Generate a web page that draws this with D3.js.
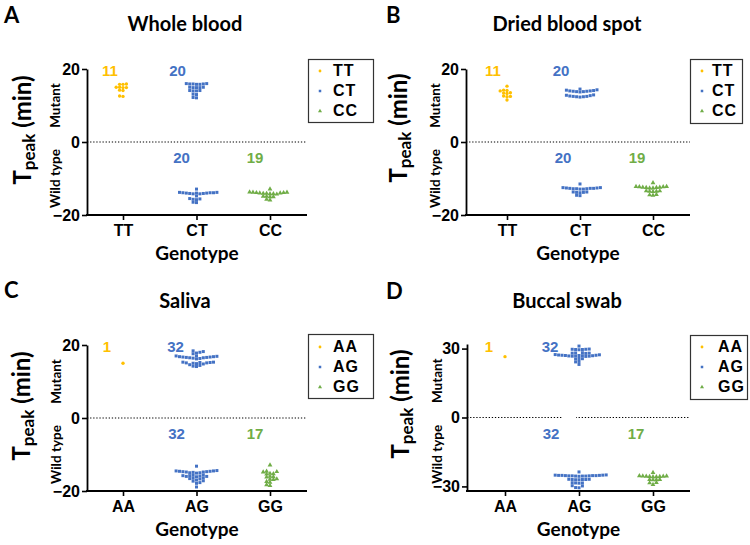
<!DOCTYPE html>
<html><head><meta charset="utf-8">
<script src="https://cdn.jsdelivr.net/npm/d3@7"></script>
<style>body{margin:0;background:#fff}svg{display:block}</style>
</head><body>
<svg id="c" width="750" height="545"></svg>
<script>
// ---------- data ----------
const genotypesAB = ["TT", "CT", "CC"];
const genotypesCD = ["AA", "AG", "GG"];
const yTicksBlood = [-20, 0, 20];
const yTicksBuccal = [-30, 0, 30];

// A: Whole blood
const wbTT_mut = [12.5, 12.6, 14.1, 14.2, 14.9, 14.9, 15.0, 15.0, 15.8, 15.8, 15.9];
const wbCT_mut = [12.1, 12.2, 13.0, 13.1, 14.0, 14.0, 14.1, 14.1, 14.9, 14.9, 14.9, 15.0, 15.0, 15.8, 15.8, 15.9, 15.9, 15.9, 16.0, 16.0];
const wbCT_wt = [-12.9, -13.8, -13.8, -13.9, -13.9, -13.9, -14.0, -14.0, -14.0, -14.1, -14.1, -14.2, -14.2, -14.8, -15.5, -15.6, -15.7, -15.8, -16.5, -16.6];
const wbCC_wt = [-12.9, -13.7, -13.8, -13.8, -13.9, -13.9, -14.0, -14.0, -14.1, -14.1, -14.2, -14.2, -14.3, -14.9, -14.9, -15.0, -15.0, -15.7, -15.9];
// B: Dried blood spot
const dbsTT_mut = [11.5, 12.4, 12.5, 12.6, 13.3, 13.4, 13.5, 14.0, 14.1, 14.2, 15.3];
const dbsCT_mut = [12.3, 12.4, 12.4, 12.5, 12.5, 12.6, 12.7, 12.8, 12.9, 13.7, 13.8, 13.8, 13.9, 13.9, 14.0, 14.0, 14.1, 14.2, 14.3, 14.5];
const dbsCT_wt = [-11.5, -12.5, -12.5, -12.6, -12.6, -12.7, -12.7, -12.7, -12.8, -12.8, -12.8, -12.9, -12.9, -13.7, -13.7, -13.8, -13.8, -13.9, -14.6, -14.7];
const dbsCC_wt = [-11.2, -12.2, -12.2, -12.3, -12.3, -12.4, -12.4, -12.5, -12.5, -12.6, -12.6, -13.4, -13.4, -13.5, -13.5, -13.6, -14.4, -14.5, -14.6];
// C: Saliva
const salAA_mut = [15.0];
const salAG_mut = [14.1, 14.2, 14.4, 14.6, 14.8, 14.9, 15.0, 15.1, 15.1, 15.2, 15.2, 15.3, 15.3, 16.2, 16.3, 16.4, 16.5, 16.5, 16.6, 16.6, 16.7, 16.7, 16.8, 16.8, 16.9, 17.0, 17.0, 17.6, 17.8, 18.0, 18.2, 18.4];
const salAG_wt = [-13.2, -14.4, -14.5, -14.5, -14.6, -14.6, -14.7, -14.7, -14.8, -14.8, -14.9, -15.0, -15.0, -15.1, -15.6, -15.7, -15.8, -15.8, -15.9, -16.0, -16.0, -16.1, -16.4, -16.5, -16.6, -16.7, -17.0, -17.2, -17.3, -17.7, -17.9, -18.9];
const salGG_wt = [-12.9, -14.6, -14.7, -14.8, -15.2, -15.3, -15.4, -16.0, -16.1, -16.2, -16.7, -16.8, -16.9, -17.4, -17.6, -18.3, -18.5];
// D: Buccal swab
const bucAA_mut = [26.5];
const bucAG_mut = [23.1, 24.2, 24.4, 25.5, 25.6, 25.7, 26.6, 26.7, 26.7, 26.8, 26.8, 26.9, 26.9, 27.0, 27.0, 27.1, 27.1, 27.2, 27.3, 27.4, 27.9, 28.0, 28.0, 28.1, 28.2, 29.5, 29.6, 29.6, 29.7, 29.7, 29.8, 31.1];
const bucAG_wt = [-23.7, -25.0, -25.1, -25.1, -25.2, -25.2, -25.2, -25.3, -25.3, -25.3, -25.4, -25.4, -25.4, -25.5, -25.5, -25.5, -25.6, -26.9, -26.9, -27.0, -27.0, -27.0, -27.1, -27.1, -28.4, -28.5, -28.5, -28.6, -29.7, -29.8, -30.5, -30.6];
const bucGG_wt = [-24.0, -25.4, -25.5, -25.5, -25.6, -25.6, -25.7, -25.7, -25.8, -25.8, -27.0, -27.0, -27.1, -27.1, -28.4, -28.5, -29.2];

// ---------- styles ----------
const colors = ["#FFC000", "#4472C4", "#70AD47"];
const shapes = [d3.symbolCircle, d3.symbolSquare, d3.symbolTriangle];
const shapeSizes = [9, 9, 10];
const HUM = "Lato, 'Open Sans', sans-serif";
const ARI = "'Liberation Sans', Arial, sans-serif";

const panels = [
  { letter: "A", title: "Whole blood", cats: genotypesAB, ticks: yTicksBlood, domain: [-20, 20],
    axisX: 87, axisEnd: 307, catRange: [123, 270], yRange: [215, 69],
    letterPos: [4, 23], titlePos: [185, 31], yLab: [31, 130], mutX: 60,
    legend: { x: 308, y: 59, w: 65, h: 63, mx: 320, tx: 333, top: 76 },
    series: [
      { gi: 0, type: "mut", values: wbTT_mut, dx: -13 },
      { gi: 1, type: "mut", values: wbCT_mut, dx: -19 },
      { gi: 1, type: "wt", values: wbCT_wt, dx: -15 },
      { gi: 2, type: "wt", values: wbCC_wt, dx: -15 } ] },
  { letter: "B", title: "Dried blood spot", cats: genotypesAB, ticks: yTicksBlood, domain: [-20, 20],
    axisX: 466, axisEnd: 690, catRange: [507, 653], yRange: [215, 69],
    letterPos: [386, 23], titlePos: [567, 31], yLab: [407, 128], mutX: 440,
    legend: { x: 690, y: 59, w: 52, h: 64, mx: 702, tx: 712, top: 76 },
    series: [
      { gi: 0, type: "mut", values: dbsTT_mut, dx: -14 },
      { gi: 1, type: "mut", values: dbsCT_mut, dx: -19 },
      { gi: 1, type: "wt", values: dbsCT_wt, dx: -17 },
      { gi: 2, type: "wt", values: dbsCC_wt, dx: -16 } ] },
  { letter: "C", title: "Saliva", cats: genotypesCD, ticks: yTicksBlood, domain: [-20, 20],
    axisX: 87, axisEnd: 307, catRange: [123, 270], yRange: [491, 345],
    letterPos: [4, 298], titlePos: [185, 308], yLab: [30, 406], mutX: 61,
    legend: { x: 308, y: 334, w: 65, h: 64, mx: 320, tx: 333, top: 352 },
    series: [
      { gi: 0, type: "mut", values: salAA_mut, dx: -16 },
      { gi: 1, type: "mut", values: salAG_mut, dx: -21 },
      { gi: 1, type: "wt", values: salAG_wt, dx: -20 },
      { gi: 2, type: "wt", values: salGG_wt, dx: -15 } ] },
  { letter: "D", title: "Buccal swab", cats: genotypesCD, ticks: yTicksBuccal, domain: [-32, 32],
    axisX: 467, axisEnd: 690, catRange: [505, 653], yRange: [491, 344],
    letterPos: [386, 299], titlePos: [567, 308], yLab: [409, 404], mutX: 442,
    legend: { x: 690, y: 335, w: 57, h: 64, mx: 702, tx: 718, top: 352 },
    zeroGap: [-0.22, -0.04],
    series: [
      { gi: 0, type: "mut", values: bucAA_mut, dx: -16 },
      { gi: 1, type: "mut", values: bucAG_mut, dx: -29 },
      { gi: 1, type: "wt", values: bucAG_wt, dx: -28 },
      { gi: 2, type: "wt", values: bucGG_wt, dx: -17 } ] }
];

// row-style dot placement (bottom-up, nearest free slot to the centre)
function swarm(values, y, pitch, h) {
  const pts = values.map(v => ({ v, py: y(v), x: 0 }));
  const order = pts.slice().sort((a, b) => b.py - a.py);
  const placed = [];
  order.forEach((p, k) => {
    const near = placed.filter(q => Math.abs(q.py - p.py) < h);
    const cands = [0];
    near.forEach(q => cands.push(q.x + pitch, q.x - pitch));
    cands.sort((a, b) => (Math.abs(a) - Math.abs(b)) || (k % 2 ? a - b : b - a));
    for (const c of cands) {
      if (near.every(q => Math.abs(q.x - c) >= pitch - 0.01)) { p.x = c; break; }
    }
    placed.push(p);
  });
  return pts;
}

const svg = d3.select("#c");

panels.forEach(P => {
  const g = svg.append("g");
  const x = d3.scalePoint().domain(P.cats).range(P.catRange);
  const y = d3.scaleLinear().domain(P.domain).range(P.yRange);
  const step = x.step();
  const y0 = y(0);

  g.append("text").attr("x", P.letterPos[0]).attr("y", P.letterPos[1]).text(P.letter)
    .attr("font-family", HUM).attr("font-weight", 700).attr("font-size", 22);
  g.append("text").attr("x", P.titlePos[0]).attr("y", P.titlePos[1]).text(P.title)
    .attr("text-anchor", "middle").attr("font-family", HUM).attr("font-weight", 700).attr("font-size", 20);

  g.append("line").attr("x1", P.axisX).attr("x2", P.axisEnd).attr("y1", y0).attr("y2", y0)
    .attr("stroke", "#000").attr("stroke-width", 1.2).attr("stroke-dasharray", "1.3,1.8");
  if (P.zeroGap) {
    const c = x(P.cats[1]);
    g.append("rect").attr("x", c + P.zeroGap[0] * step).attr("y", y0 - 2)
      .attr("width", (P.zeroGap[1] - P.zeroGap[0]) * step).attr("height", 4).attr("fill", "#fff");
  }

  const ya = g.append("g").attr("transform", `translate(${P.axisX},0)`)
    .call(d3.axisLeft(y).tickValues(P.ticks).tickSize(5).tickSizeOuter(0).tickPadding(2).tickFormat(d3.format("d")));
  const xa = g.append("g").attr("transform", `translate(0,${P.yRange[0]})`)
    .call(d3.axisBottom(x).tickSize(5).tickSizeOuter(0).tickPadding(5));
  xa.select(".domain").remove();
  g.append("line").attr("x1", P.axisX - 1).attr("x2", P.axisEnd).attr("y1", P.yRange[0]).attr("y2", P.yRange[0])
    .attr("stroke", "#000").attr("stroke-width", 1.8);
  [ya, xa].forEach(a => {
    a.selectAll("path").attr("stroke", "#000").attr("stroke-width", 1.8);
    a.selectAll("line").attr("stroke", "#000").attr("stroke-width", 1.6);
    a.selectAll("text").attr("font-family", ARI).attr("font-weight", 700).attr("font-size", 16).attr("fill", "#000");
  });

  g.append("text").attr("x", (P.axisX + P.axisEnd) / 2).attr("y", P.yRange[0] + 45).text("Genotype")
    .attr("text-anchor", "middle").attr("font-family", HUM).attr("font-weight", 700).attr("font-size", 19);
  const yl = g.append("text").attr("transform", `translate(${P.yLab[0]},${P.yLab[1]}) rotate(-90)`)
    .attr("text-anchor", "middle").attr("font-family", HUM).attr("font-weight", 700).attr("font-size", 24);
  yl.append("tspan").text("T");
  yl.append("tspan").text("peak").attr("font-size", 17).attr("dy", 4);
  yl.append("tspan").text(" (min)").attr("dy", -4);
  [["Mutant", P.domain[1] / 2], ["Wild type", P.domain[0] / 2]].forEach(([t, v]) => {
    g.append("text").attr("transform", `translate(${P.mutX},${y(v)}) rotate(-90)`).text(t)
      .attr("text-anchor", "middle").attr("font-family", HUM).attr("font-weight", 700).attr("font-size", 13.5);
  });

  P.series.forEach(S => {
    const cx = x(P.cats[S.gi]);
    const pts = swarm(S.values, y, 3.4, 2.8);
    g.append("g").selectAll("path").data(pts).join("path")
      .attr("d", d3.symbol().type(shapes[S.gi]).size(shapeSizes[S.gi]))
      .attr("transform", d => `translate(${cx + d.x},${d.py})`)
      .attr("fill", colors[S.gi]);
    g.append("text").attr("x", cx + S.dx).attr("y", S.type === "mut" ? y0 - 66 : y0 + 21)
      .text(S.values.length).attr("text-anchor", "middle")
      .attr("font-family", ARI).attr("font-weight", 700).attr("font-size", 15).attr("fill", colors[S.gi]);
  });

  const L = P.legend;
  g.append("rect").attr("x", L.x + 0.5).attr("y", L.y + 0.5).attr("width", L.w).attr("height", L.h)
    .attr("fill", "#fff").attr("stroke", "#333").attr("stroke-width", 1.2);
  P.cats.forEach((c, i) => {
    const by = L.top + i * 20;
    g.append("path").attr("d", d3.symbol().type(shapes[i]).size(shapeSizes[i] * 0.7))
      .attr("transform", `translate(${L.mx},${by - 5})`).attr("fill", colors[i]);
    g.append("text").attr("x", L.tx).attr("y", by).text(c)
      .attr("font-family", ARI).attr("font-weight", 700).attr("font-size", 16).attr("letter-spacing", 1);
  });
});
</script>
</body></html>
